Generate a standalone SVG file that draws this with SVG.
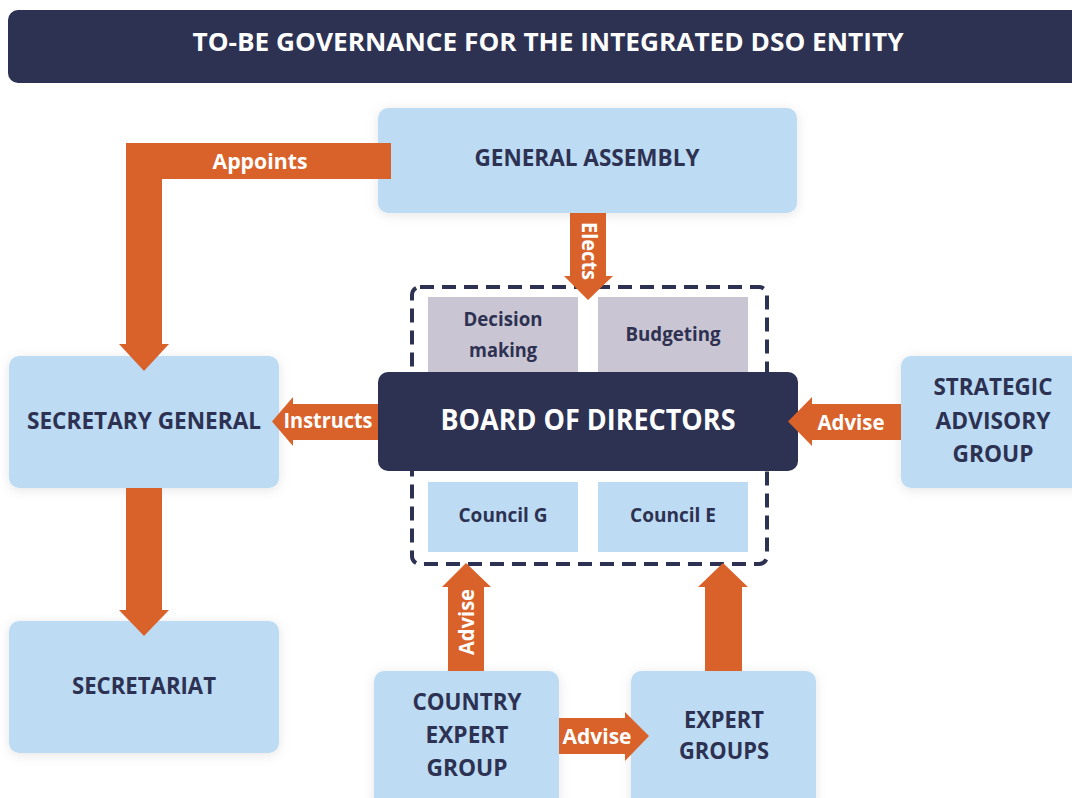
<svg xmlns="http://www.w3.org/2000/svg" width="1072" height="798" viewBox="0 0 1072 798">
<defs>
<style>
.box{fill:#bddcf4;}
.grey{fill:#cac5d3;}
.navy{fill:#2d3152;}
.arr{fill:#d9622b;}
.t{font-family:"Open Sans","Liberation Sans",sans-serif;font-weight:700;text-anchor:middle;}
.dk{fill:#2d3152;}
.wt{fill:#ffffff;}
</style>
<filter id="sh" x="-20%" y="-20%" width="140%" height="140%">
<feDropShadow dx="0" dy="2" stdDeviation="6" flood-color="#000" flood-opacity="0.10"/>
</filter>
</defs>
<rect width="1072" height="798" fill="#ffffff"/>

<g id="title">
<rect x="8" y="10" width="1080" height="73" rx="10" class="navy"/>
<text class="t wt" x="548" y="51" font-size="25" textLength="711" lengthAdjust="spacingAndGlyphs">TO-BE GOVERNANCE FOR THE INTEGRATED DSO ENTITY</text>
</g>

<g id="general-assembly">
<rect x="378" y="108" width="419" height="105" rx="10" class="box" filter="url(#sh)"/>
<text class="t dk" x="587" y="166" font-size="22.5" textLength="225" lengthAdjust="spacingAndGlyphs">GENERAL ASSEMBLY</text>
</g>

<g id="secretary-general">
<rect x="9" y="356" width="270" height="132" rx="10" class="box" filter="url(#sh)"/>
<text class="t dk" x="144" y="429" font-size="22.5" textLength="234" lengthAdjust="spacingAndGlyphs">SECRETARY GENERAL</text>
</g>

<g id="secretariat">
<rect x="9" y="621" width="270" height="132" rx="10" class="box" filter="url(#sh)"/>
<text class="t dk" x="144" y="694" font-size="22.5" textLength="144" lengthAdjust="spacingAndGlyphs">SECRETARIAT</text>
</g>

<g id="strategic-advisory-group">
<rect x="901" y="356" width="190" height="132" rx="10" class="box" filter="url(#sh)"/>
<text class="t dk" x="993" y="395" font-size="22.5" textLength="119" lengthAdjust="spacingAndGlyphs">STRATEGIC</text>
<text class="t dk" x="993" y="429" font-size="22.5" textLength="115" lengthAdjust="spacingAndGlyphs">ADVISORY</text>
<text class="t dk" x="993" y="462" font-size="22.5" textLength="81" lengthAdjust="spacingAndGlyphs">GROUP</text>
</g>

<g id="country-expert-group">
<rect x="374" y="671" width="185" height="140" rx="10" class="box" filter="url(#sh)"/>
<text class="t dk" x="467" y="710" font-size="22.5" textLength="109" lengthAdjust="spacingAndGlyphs">COUNTRY</text>
<text class="t dk" x="467" y="743" font-size="22.5" textLength="83" lengthAdjust="spacingAndGlyphs">EXPERT</text>
<text class="t dk" x="467" y="776" font-size="22.5" textLength="81" lengthAdjust="spacingAndGlyphs">GROUP</text>
</g>

<g id="expert-groups">
<rect x="631" y="671" width="185" height="140" rx="10" class="box" filter="url(#sh)"/>
<text class="t dk" x="724" y="728" font-size="22.5" textLength="80" lengthAdjust="spacingAndGlyphs">EXPERT</text>
<text class="t dk" x="724" y="759" font-size="22.5" textLength="90" lengthAdjust="spacingAndGlyphs">GROUPS</text>
</g>

<g id="board-group">
<rect x="412" y="287" width="355" height="277" rx="8" fill="none" stroke="#2d3152" stroke-width="4" stroke-dasharray="14 8"/>
</g>

<g id="decision-making">
<rect x="428" y="297" width="150" height="80" class="grey"/>
<text class="t dk" x="503" y="326" font-size="19" textLength="79" lengthAdjust="spacingAndGlyphs">Decision</text>
<text class="t dk" x="503" y="357" font-size="19" textLength="68" lengthAdjust="spacingAndGlyphs">making</text>
</g>

<g id="budgeting">
<rect x="598" y="297" width="150" height="80" class="grey"/>
<text class="t dk" x="673" y="341" font-size="19" textLength="95" lengthAdjust="spacingAndGlyphs">Budgeting</text>
</g>

<g id="council-g">
<rect x="428" y="482" width="150" height="70" class="box"/>
<text class="t dk" x="503" y="522" font-size="19" textLength="89" lengthAdjust="spacingAndGlyphs">Council G</text>
</g>

<g id="council-e">
<rect x="598" y="482" width="150" height="70" class="box"/>
<text class="t dk" x="673" y="522" font-size="19" textLength="86" lengthAdjust="spacingAndGlyphs">Council E</text>
</g>

<g id="board-of-directors">
<rect x="378" y="372" width="420" height="99" rx="10" class="navy"/>
<text class="t wt" x="588" y="430" font-size="28" textLength="295" lengthAdjust="spacingAndGlyphs">BOARD OF DIRECTORS</text>
</g>

<g id="connectors">
<polygon class="arr" points="391,143 126,143 126,344 119,344 144,371 169,344 162,344 162,179 391,179"/>
<text class="t wt" x="260" y="168.5" font-size="21" textLength="95" lengthAdjust="spacingAndGlyphs">Appoints</text>

<polygon class="arr" points="570,213 606,213 606,276 613,276 588,300 564,276 570,276"/>
<text class="t wt" transform="translate(589,251) rotate(90)" x="0" y="7.5" font-size="21" textLength="58" lengthAdjust="spacingAndGlyphs">Elects</text>

<polygon class="arr" points="378,404 293,404 293,397 272,421.5 293,446 293,440 378,440"/>
<text class="t wt" x="328" y="427.5" font-size="21" textLength="89" lengthAdjust="spacingAndGlyphs">Instructs</text>

<polygon class="arr" points="901,404 812,404 812,397 788,421.5 812,446 812,440 901,440"/>
<text class="t wt" x="851" y="429.5" font-size="21" textLength="67" lengthAdjust="spacingAndGlyphs">Advise</text>

<polygon class="arr" points="126,488 162,488 162,610 169,610 144,636 119,610 126,610"/>

<polygon class="arr" points="448,671 484,671 484,587 491,587 466,563 442,587 448,587"/>
<text class="t wt" transform="translate(466,622) rotate(-90)" x="0" y="7.5" font-size="21" textLength="66" lengthAdjust="spacingAndGlyphs">Advise</text>

<polygon class="arr" points="705,671 742,671 742,587 748,587 723,563 698,587 705,587"/>

<polygon class="arr" points="559,718 625,718 625,712 649,736 625,761 625,754 559,754"/>
<text class="t wt" x="597" y="743.5" font-size="21" textLength="69" lengthAdjust="spacingAndGlyphs">Advise</text>
</g>
</svg>
